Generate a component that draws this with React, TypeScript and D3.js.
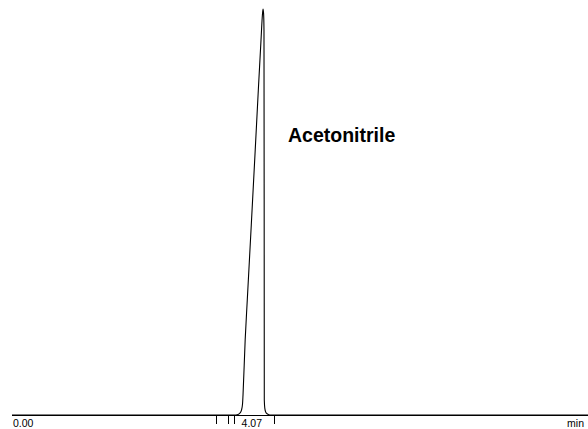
import React from 'react'
import * as d3 from 'd3'

// chromatogram trace: retention time (min) and relative signal
const times = [
  0, 3.55, 3.632, 3.665, 3.697, 3.721, 3.738, 3.746, 3.781, 3.815, 3.88, 3.944, 3.994, 4.038,
  4.057, 4.07, 4.08, 4.086, 4.089, 4.091, 4.099, 4.115, 4.143, 4.184, 9.34,
]
const signal = [
  0, 0, 0, 0.1, 0.5, 1.2, 2.7, 4.9, 18.5, 28.3, 46.8, 65.3, 80.0, 92.4, 97.8, 100, 98.8, 94.8, 53,
  3.7, 1.7, 0.7, 0.25, 0, 0,
]
// integration event marks on the time axis
const eventMarks = [3.308, 3.503, 3.6, 4.248]
const peakLabel = 'Acetonitrile'
const peakTime = 4.07

const W = 588
const H = 429

export default function App() {
  const x = d3.scaleLinear().domain([0, 9.34]).range([12, 588])
  const y = d3.scaleLinear().domain([0, 100]).range([415, 9])

  const pts: [number, number][] = times.map((t, i) => [t, signal[i]])
  const line = d3
    .line<[number, number]>()
    .x(d => x(d[0]))
    .y(d => y(d[1]))
    .curve(d3.curveMonotoneX)

  const font = 'Helvetica, Arial, "Liberation Sans", sans-serif'

  return (
    <svg
      width={W}
      height={H}
      style={{position: 'absolute', left: 0, top: 0, background: '#fff'}}
      fontFamily={font}>
      {/* baseline / axis */}
      <line x1={x(0)} x2={x(9.34)} y1={y(0) + 0.5} y2={y(0) + 0.5} stroke="#000" strokeWidth={1} />
      {eventMarks.map((t, i) => (
        <line
          key={i}
          x1={Math.round(x(t)) + 0.5}
          x2={Math.round(x(t)) + 0.5}
          y1={y(0) + 1}
          y2={y(0) + 9}
          stroke="#000"
          strokeWidth={1}
        />
      ))}
      <path d={line(pts) || ''} fill="none" stroke="#000" strokeWidth={1.1} />
      <text x={x(0) + 1} y={427} fontSize={10.5} fill="#000">
        0.00
      </text>
      <text x={x(peakTime) - 1} y={427} fontSize={10.5} fill="#000" textAnchor="end">
        {peakTime.toFixed(2)}
      </text>
      <text x={584} y={427} fontSize={10.5} fill="#000" textAnchor="end">
        min
      </text>
      <text x={288} y={141.5} fontSize={19.5} fontWeight="bold" fill="#000">
        {peakLabel}
      </text>
    </svg>
  )
}
